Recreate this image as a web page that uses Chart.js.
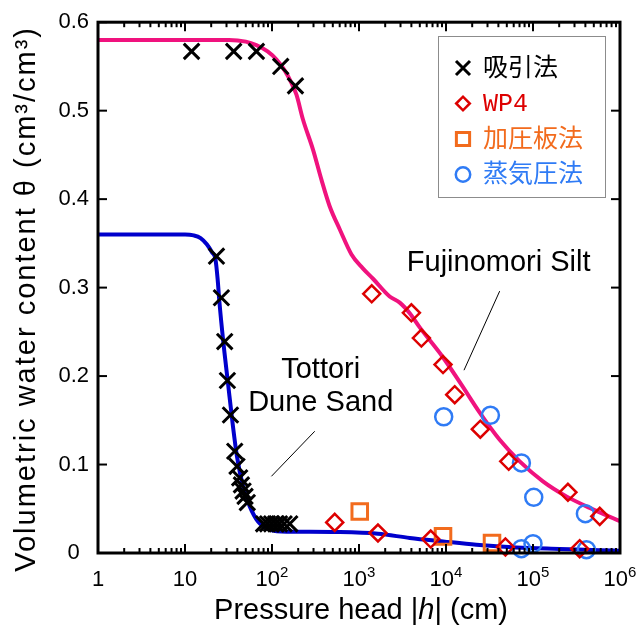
<!DOCTYPE html>
<html><head><meta charset="utf-8">
<script src="https://cdn.jsdelivr.net/npm/chart.js@4.4.0/dist/chart.umd.min.js"></script>
<style>html,body{margin:0;padding:0;background:#fff;}canvas{display:block;}</style>
</head><body>
<canvas id="c" width="641" height="625"></canvas>
<script>
// ---- data (pressure head h in cm, volumetric water content theta) ----
const fujiCurveH     = [1, 32, 50, 66, 89, 112, 141, 166, 191, 227, 296, 370, 460, 600, 820, 1100, 1450, 2250, 2940, 3830, 4990, 9250, 15100, 24300, 41400, 70300, 130000, 242000, 449000, 1000000];
const fujiCurveTheta = [0.58, 0.58, 0.578, 0.574, 0.567, 0.558, 0.545, 0.532, 0.518, 0.490, 0.456, 0.422, 0.392, 0.366, 0.3375, 0.322, 0.310, 0.290, 0.283, 0.271, 0.255, 0.221, 0.190, 0.159, 0.128, 0.1036, 0.081, 0.064, 0.051, 0.036];
const tottoriCurveH     = [1, 10, 12.6, 15.1, 17.8, 20.4, 22.4, 23.7, 24.8, 27.4, 31.2, 35.6, 39.6, 46.5, 55.5, 69, 94.2, 147, 271, 501, 1650, 3830, 9250, 22300, 64400, 203000, 585000, 1000000];
const tottoriCurveTheta = [0.36, 0.36, 0.359, 0.356, 0.349, 0.340, 0.332, 0.31, 0.285, 0.241, 0.192, 0.143, 0.109, 0.0753, 0.0527, 0.0357, 0.0264, 0.024, 0.024, 0.0238, 0.0218, 0.017, 0.0131, 0.0094, 0.0063, 0.0045, 0.003, 0.0026];

const suctionH     = [11.9, 36.3, 66.2, 126, 186, 23, 26.2, 28.6, 30.7, 33.3, 37.3, 39.6, 42.5, 44.5, 46.5, 49, 52, 80, 89, 99, 110, 122, 138, 160];
const suctionTheta = [0.567, 0.567, 0.567, 0.550, 0.528, 0.3355, 0.2885, 0.239, 0.195, 0.156, 0.115, 0.098, 0.085, 0.077, 0.070, 0.064, 0.057, 0.033, 0.033, 0.033, 0.033, 0.033, 0.033, 0.033];
const wp4H     = [526, 1652, 6670, 48200, 344000, 252000, 585000, 1400, 4000, 5210, 9240, 12600, 24800, 52600];
const wp4Theta = [0.0346, 0.0226, 0.0158, 0.0068, 0.0049, 0.0686, 0.0414, 0.293, 0.2715, 0.243, 0.213, 0.179, 0.140, 0.1036];
const plateH     = [1020, 9240, 33800];
const plateTheta = [0.047, 0.0188, 0.0113];
const vaporH     = [9410, 32400, 73600, 102000, 400000, 73600, 100000, 411000];
const vaporTheta = [0.154, 0.1557, 0.1018, 0.0629, 0.0445, 0.0049, 0.0105, 0.0037];

const seriesLabels = ['吸引法', 'WP4', '加圧板法', '蒸気圧法'];
const curveLabels  = ['Fujinomori Silt', 'Tottori Dune Sand'];
const xTickValues  = [1, 10, 100, 1000, 10000, 100000, 1000000];
const xTickLabels  = ['1', '10', '10^2', '10^3', '10^4', '10^5', '10^6'];

const pts = (hs, ts) => hs.map((h, i) => ({x: h, y: ts[i]}));
const LATIN = '"Liberation Sans", Arial, sans-serif';

const colors = {suction:'#000000', wp4:'#DD0000', plate:'#F26B1D', vapor:'#2F7BF5', fuji:'#F0127E', tottori:'#0000CC'};

const decor = {
  id: 'decor',
  afterDatasetsDraw(chart) {
    const {ctx, chartArea: a, scales: {x, y}} = chart;
    ctx.save();
    ctx.strokeStyle = '#000';
    ctx.lineWidth = 2;
    const ln = (x1, y1, x2, y2) => { ctx.beginPath(); ctx.moveTo(x1, y1); ctx.lineTo(x2, y2); ctx.stroke(); };
    for (let k = 0; k < 6; k++) {
      for (let m = 1; m < 10; m++) {
        const px = x.getPixelForValue(m * Math.pow(10, k));
        const len = m === 1 ? 9 : 5;
        ln(px, a.bottom, px, a.bottom - len);
        ln(px, a.top, px, a.top + len);
      }
    }
    y.ticks.forEach(t => {
      const py = y.getPixelForValue(t.value);
      ln(a.left, py, a.left + 9, py);
      ln(a.right, py, a.right - 9, py);
    });
    ctx.lineWidth = 3;
    ctx.strokeRect(a.left, a.top, a.right - a.left, a.bottom - a.top);
    ctx.restore();
  },
  afterDraw(chart) {
    const {ctx, chartArea: a, scales: {x, y}} = chart;
    const o = chart.options.plugins.decor;
    ctx.save();
    ctx.fillStyle = '#000';
    // x tick labels with superscripts
    xTickValues.forEach((v, i) => {
      const px = x.getPixelForValue(v);
      const parts = xTickLabels[i].split('^');
      ctx.font = `22px ${LATIN}`;
      const w1 = ctx.measureText(parts[0]).width;
      let w2 = 0;
      if (parts[1]) { ctx.font = `15px ${LATIN}`; w2 = ctx.measureText(parts[1]).width; }
      const sx = px - (w1 + w2) / 2;
      ctx.textAlign = 'left'; ctx.textBaseline = 'alphabetic';
      ctx.font = `22px ${LATIN}`;
      ctx.fillText(parts[0], sx, a.bottom + 33);
      if (parts[1]) { ctx.font = `15px ${LATIN}`; ctx.fillText(parts[1], sx + w1, a.bottom + 24); }
    });
    // x title with italic h
    const seg = [['Pressure head |', 'normal'], ['h', 'italic'], ['| (cm)', 'normal']];
    let tw = 0;
    seg.forEach(s => { ctx.font = `${s[1]} 29px ${LATIN}`; tw += ctx.measureText(s[0]).width; });
    let cx = (a.left + a.right) / 2 + 2 - tw / 2;
    seg.forEach(s => { ctx.font = `${s[1]} 29px ${LATIN}`; ctx.fillText(s[0], cx, 619); cx += ctx.measureText(s[0]).width; });
    // y title
    ctx.save();
    ctx.translate(27, o.yTitleTop);
    ctx.rotate(-Math.PI / 2);
    ctx.font = `29px ${LATIN}`;
    ctx.letterSpacing = '2px';
    ctx.textAlign = 'right'; ctx.textBaseline = 'middle';
    ctx.fillText('Volumetric water content θ (cm³/cm³)', 0, 0);
    ctx.restore();

    // annotations
    ctx.font = `29px ${LATIN}`;
    ctx.textAlign = 'center'; ctx.textBaseline = 'middle';
    o.notes.forEach(n => {
      const px = x.getPixelForValue(n.h), py = y.getPixelForValue(n.t);
      n.lines.forEach((l, j) => ctx.fillText(l, px, py + j * 33));
      ctx.lineWidth = 1; ctx.strokeStyle = '#000';
      ctx.beginPath();
      ctx.moveTo(x.getPixelForValue(n.l[0]), y.getPixelForValue(n.l[1]));
      ctx.lineTo(x.getPixelForValue(n.l[2]), y.getPixelForValue(n.l[3]));
      ctx.stroke();
    });

    // legend
    const L = o.legend;
    ctx.fillStyle = '#fff'; ctx.fillRect(L.x, L.y, L.w, L.h);
    ctx.strokeStyle = '#8c8c8c'; ctx.lineWidth = 1;
    ctx.strokeRect(L.x + 0.5, L.y + 0.5, L.w, L.h);
    const ds = chart.data.datasets.filter(d => d.isMarker);
    ds.forEach((d, i) => {
      const my = L.y + L.first + i * L.step;
      const mx = L.x + L.markX;
      ctx.strokeStyle = d.borderColor; ctx.lineWidth = d.borderWidth;
      ctx.beginPath();
      const r = d.pointRadius;
      if (d.pointStyle === 'crossRot') {
        const q = r * Math.SQRT1_2 * 0.9;
        ctx.moveTo(mx - q, my - q); ctx.lineTo(mx + q, my + q);
        ctx.moveTo(mx + q, my - q); ctx.lineTo(mx - q, my + q);
      } else if (d.pointStyle === 'rectRot') {
        const q = r * 0.8;
        ctx.moveTo(mx - q, my); ctx.lineTo(mx, my - q); ctx.lineTo(mx + q, my); ctx.lineTo(mx, my + q); ctx.closePath();
      } else if (d.pointStyle === 'rect') {
        const q = r * Math.SQRT1_2 * 0.85;
        ctx.rect(mx - q, my - q, 2 * q, 2 * q);
      } else {
        ctx.arc(mx, my, r * 0.85, 0, Math.PI * 2);
      }
      ctx.stroke();
      ctx.fillStyle = d.borderColor;
      ctx.font = `25px "Liberation Mono", "Noto Sans CJK JP", sans-serif`;
      ctx.textAlign = 'left'; ctx.textBaseline = 'middle';
      ctx.fillText(d.label, L.x + L.textX, my + 1);
    });
    ctx.restore();
  }
};

const markerDs = (label, data, color, style, r, bw) => ({
  label, data, isMarker: true, showLine: false, pointStyle: style, pointRadius: r, pointHoverRadius: r,
  borderColor: color, backgroundColor: 'rgba(0,0,0,0)', pointBorderColor: color, pointBackgroundColor: 'rgba(0,0,0,0)',
  borderWidth: bw, pointBorderWidth: bw, order: 1, clip: false
});

new Chart(document.getElementById('c'), {
  type: 'scatter',
  data: {
    datasets: [
      {label: curveLabels[0], data: pts(fujiCurveH, fujiCurveTheta), showLine: true, borderColor: colors.fuji, borderWidth: 4, pointRadius: 0, cubicInterpolationMode: 'monotone', order: 10},
      {label: curveLabels[1], data: pts(tottoriCurveH, tottoriCurveTheta), showLine: true, borderColor: colors.tottori, borderWidth: 4, pointRadius: 0, cubicInterpolationMode: 'monotone', order: 11},
      markerDs(seriesLabels[0], pts(suctionH, suctionTheta), colors.suction, 'crossRot', 11, 3),
      markerDs(seriesLabels[1], pts(wp4H, wp4Theta), colors.wp4, 'rectRot', 8.5, 2.5),
      markerDs(seriesLabels[2], pts(plateH, plateTheta), colors.plate, 'rect', 11, 3),
      markerDs(seriesLabels[3], pts(vaporH, vaporTheta), colors.vapor, 'circle', 8.5, 2.5)
    ]
  },
  options: {
    responsive: false,
    animation: false,
    events: [],
    layout: {padding: {top: 22, right: 21, left: 0, bottom: 0}},
    scales: {
      x: {type: 'logarithmic', min: 1, max: 1000000,
          ticks: {display: false}, grid: {display: false, drawTicks: false}, border: {display: false},
          afterFit(s) { s.height = 72; }},
      y: {min: 0, max: 0.6,
          ticks: {stepSize: 0.1, crossAlign: 'center', padding: 9, color: '#000', font: {family: LATIN, size: 22},
                  callback: v => v === 0 ? '0' : v.toFixed(1)},
          grid: {display: false, drawTicks: false}, border: {display: false},
          afterFit(s) { s.width = 98; }}
    },
    plugins: {
      legend: {display: false},
      tooltip: {enabled: false},
      decor: {
        yTitleTop: 26,
        legend: {x: 438, y: 36, w: 167, h: 161, markX: 25, textX: 45, first: 32, step: 35.5},
        notes: [
          {lines: ['Fujinomori Silt'], h: 40300, t: 0.328, l: [41400, 0.296, 16100, 0.2066]},
          {lines: ['Tottori', 'Dune Sand'], h: 363, t: 0.207, l: [310, 0.1376, 98.5, 0.0867]}
        ]
      }
    }
  },
  plugins: [decor]
});
</script>
</body></html>
